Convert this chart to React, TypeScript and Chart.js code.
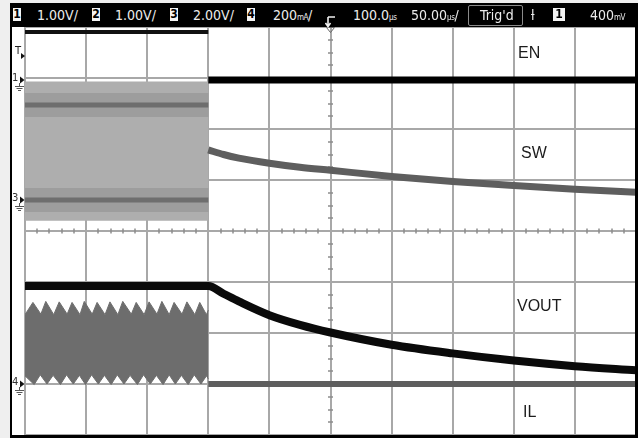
import React, { useEffect, useRef } from "react";
import { Chart, registerables } from "chart.js";

Chart.register(...registerables);

const W = 638;
const H = 438;

// Graticule: 10 horizontal divisions (time), 8 vertical divisions (0 = bottom line)
const xDivs = 10;
const yDivs = 8;

// EN (channel 1)
const enBeforeX = [0, 3.0];
const enBeforeY = [7.9, 7.9];
const enAfterX = [3.0, 10];
const enAfterY = [6.96, 6.96];

// SW (channel 3) – switching envelope while EN is high
const swBandX = [0, 3.0];
const swBandTopY = [6.93, 6.93];
const swBandBottomY = [4.2, 4.2];
const swHighRailY = [6.47, 6.47];
const swLowRailY = [4.61, 4.61];
// SW after EN falls
const swAfterX = [3.0, 3.25, 3.5, 4.0, 4.5, 5.0, 6.0, 7.0, 8.0, 9.0, 10.0];
const swAfterY = [5.59, 5.5, 5.43, 5.33, 5.25, 5.19, 5.07, 4.97, 4.89, 4.82, 4.76];

// VOUT (channel 2)
const voutX = [0, 3.0, 3.25, 3.5, 4.0, 4.5, 5.0, 6.0, 7.0, 8.0, 9.0, 10.0];
const voutY = [2.92, 2.92, 2.77, 2.62, 2.35, 2.16, 2.01, 1.77, 1.6, 1.46, 1.35, 1.27];

// IL (channel 4) – ripple envelope while switching
const ilTopX = [0.0, 0.13, 0.26, 0.34, 0.47, 0.56, 0.69, 0.77, 0.9, 0.97, 1.1, 1.18, 1.31, 1.39, 1.52, 1.6, 1.74, 1.82, 1.95, 2.03, 2.16, 2.24, 2.36, 2.44, 2.57, 2.65, 2.78, 2.86, 2.97, 3.0];
const ilTopY = [2.36, 2.6, 2.37, 2.62, 2.36, 2.61, 2.37, 2.6, 2.36, 2.62, 2.37, 2.6, 2.36, 2.61, 2.36, 2.62, 2.37, 2.6, 2.36, 2.61, 2.37, 2.62, 2.36, 2.6, 2.37, 2.61, 2.36, 2.6, 2.36, 2.45];
const ilBotX = [0.0, 0.15, 0.25, 0.36, 0.46, 0.58, 0.68, 0.79, 0.89, 0.99, 1.09, 1.2, 1.3, 1.41, 1.51, 1.62, 1.72, 1.84, 1.94, 2.05, 2.15, 2.26, 2.36, 2.46, 2.56, 2.67, 2.77, 2.88, 2.97, 3.0];
const ilBotY = [1.16, 0.99, 1.18, 1.0, 1.17, 0.99, 1.18, 1.0, 1.17, 0.99, 1.18, 1.0, 1.17, 0.99, 1.18, 1.0, 1.17, 0.99, 1.18, 1.0, 1.17, 0.99, 1.18, 1.0, 1.17, 0.99, 1.18, 1.0, 1.16, 1.1];
const ilAfterX = [3.0, 10];
const ilAfterY = [1.0, 1.0];

// Trace labels and their positions
const traceLabels = ["EN", "SW", "VOUT", "IL"];
const traceLabelPos = [
  [518, 44],
  [521, 144],
  [517, 297],
  [523, 403],
];

// Header readouts
const chanScales = ["1.00V/", "1.00V/", "2.00V/", "200"];
const chanNums = ["1", "2", "3", "4"];

// Left channel markers: label, level in divisions
const markerLabels = ["1", "3", "4"];
const markerLevels = [6.96, 4.61, 1.0];

const pts = (xs: number[], ys: number[]) => xs.map((x, i) => ({ x, y: ys[i] }));

const scopePlugin = {
  id: "scopeDeco",
  beforeDraw(chart: any) {
    const ctx = chart.ctx;
    ctx.save();
    ctx.fillStyle = "#efefef";
    ctx.fillRect(0, 0, W, H);
    ctx.fillStyle = "#ffffff";
    ctx.fillRect(12, 3, 624, 435);
    ctx.restore();
  },
  beforeDatasetsDraw(chart: any) {
    const { ctx, scales } = chart;
    const x = scales.x;
    const y = scales.y;
    const cx = x.getPixelForValue(5);
    const cy = y.getPixelForValue(4);
    ctx.save();
    ctx.strokeStyle = "#8c8c8c";
    ctx.lineWidth = 1.5;
    for (let i = 1; i < 50; i++) {
      if (i % 5 === 0) continue;
      const px = Math.round(x.getPixelForValue(i * 0.2));
      ctx.beginPath();
      ctx.moveTo(px, cy - 2.5);
      ctx.lineTo(px, cy + 2.5);
      ctx.stroke();
    }
    for (let i = 1; i < 32; i++) {
      if (i % 4 === 0) continue;
      const py = Math.round(y.getPixelForValue(i * 0.25));
      ctx.beginPath();
      ctx.moveTo(cx - 2.5, py);
      ctx.lineTo(cx + 2.5, py);
      ctx.stroke();
    }
    ctx.restore();
  },
  afterDraw(chart: any) {
    const { ctx, scales } = chart;
    const y = scales.y;
    const x = scales.x;
    ctx.save();
    // frame
    ctx.fillStyle = "#000";
    ctx.fillRect(10, 3, 2, 435);
    ctx.fillRect(635, 3, 3, 435);
    ctx.fillRect(10, 435, 628, 3);
    // trigger position marker
    const tx = x.getPixelForValue(5);
    ctx.strokeStyle = "#666";
    ctx.lineWidth = 1;
    ctx.beginPath();
    ctx.moveTo(tx - 4, 27.5);
    ctx.lineTo(tx + 4, 27.5);
    ctx.lineTo(tx, 32.5);
    ctx.closePath();
    ctx.stroke();
    // trigger level arrow
    ctx.fillStyle = "#111";
    ctx.beginPath();
    ctx.moveTo(21, 53);
    ctx.lineTo(25, 56);
    ctx.lineTo(21, 59);
    ctx.closePath();
    ctx.fill();
    // channel ground markers
    markerLevels.forEach((lv) => {
      const py = Math.round(y.getPixelForValue(lv));
      ctx.fillStyle = "#111";
      ctx.beginPath();
      ctx.moveTo(20, py - 3.5);
      ctx.lineTo(24.5, py);
      ctx.lineTo(20, py + 3.5);
      ctx.closePath();
      ctx.fill();
      ctx.strokeStyle = "#555";
      ctx.lineWidth = 1;
      ctx.beginPath();
      ctx.moveTo(19.5, py + 3);
      ctx.lineTo(19.5, py + 6);
      ctx.moveTo(15, py + 6.5);
      ctx.lineTo(24, py + 6.5);
      ctx.moveTo(16.5, py + 8.5);
      ctx.lineTo(22.5, py + 8.5);
      ctx.moveTo(18, py + 10.5);
      ctx.lineTo(21, py + 10.5);
      ctx.stroke();
    });
    ctx.restore();
  },
};

export default function App() {
  const ref = useRef<HTMLCanvasElement>(null);

  useEffect(() => {
    const canvas = ref.current;
    if (!canvas) return;
    const chart = new Chart(canvas, {
      type: "line",
      data: {
        datasets: [
          // 0: SW band top (fills to 1)
          {
            data: pts(swBandX, swBandTopY),
            borderWidth: 0,
            borderColor: "rgba(0,0,0,0)",
            backgroundColor: "#aeaeae",
            fill: 1,
            order: 10,
          },
          // 1: SW band bottom
          {
            data: pts(swBandX, swBandBottomY),
            borderWidth: 0,
            borderColor: "rgba(0,0,0,0)",
            fill: false,
            order: 10,
          },
          // 2,3: SW soft rails
          { data: pts(swBandX, swHighRailY), borderColor: "rgba(100,100,100,0.22)", borderWidth: 24, fill: false, order: 9 },
          { data: pts(swBandX, swLowRailY), borderColor: "rgba(100,100,100,0.22)", borderWidth: 24, fill: false, order: 9 },
          // 4: IL band top (fills to 5)
          {
            data: pts(ilTopX, ilTopY),
            borderColor: "#6d6d6d",
            borderWidth: 1,
            backgroundColor: "#6d6d6d",
            fill: 5,
            order: 8,
          },
          // 5: IL band bottom
          { data: pts(ilBotX, ilBotY), borderColor: "#6d6d6d", borderWidth: 1, fill: false, order: 8 },
          // 6,7: SW rails core
          { data: pts(swBandX, swHighRailY), borderColor: "rgba(95,95,95,0.75)", borderWidth: 5, fill: false, order: 7 },
          { data: pts(swBandX, swLowRailY), borderColor: "rgba(95,95,95,0.75)", borderWidth: 5, fill: false, order: 7 },
          // traces
          { data: pts(enBeforeX, enBeforeY), borderColor: "#111", borderWidth: 4, fill: false, order: 1 },
          { data: pts(enAfterX, enAfterY), borderColor: "#000", borderWidth: 7, fill: false, order: 1 },
          {
            data: pts(swAfterX, swAfterY),
            borderColor: "#5e5e5e",
            borderWidth: 7,
            fill: false,
            cubicInterpolationMode: "monotone",
            order: 1,
          },
          {
            data: pts(voutX, voutY),
            borderColor: "#0a0a0a",
            borderWidth: 8,
            fill: false,
            cubicInterpolationMode: "monotone",
            order: 1,
          },
          { data: pts(ilAfterX, ilAfterY), borderColor: "#5e5e5e", borderWidth: 6, fill: false, order: 1 },
        ] as any,
      },
      options: {
        responsive: false,
        animation: false,
        devicePixelRatio: 1,
        layout: { padding: { left: 25, top: 27, right: 2, bottom: 3 } },
        plugins: {
          legend: { display: false },
          tooltip: { enabled: false },
        },
        elements: {
          point: { radius: 0, hoverRadius: 0 },
          line: { tension: 0, borderCapStyle: "butt", borderJoinStyle: "round" },
        },
        scales: {
          x: {
            type: "linear",
            min: 0,
            max: xDivs,
            ticks: { display: false, stepSize: 1 },
            grid: { color: "#a8a8a8", lineWidth: 2, drawTicks: false },
            border: { display: false },
          },
          y: {
            type: "linear",
            min: 0,
            max: yDivs,
            ticks: { display: false, stepSize: 1 },
            grid: { color: "#a8a8a8", lineWidth: 2, drawTicks: false },
            border: { display: false },
          },
        },
      } as any,
      plugins: [scopePlugin],
    });
    return () => chart.destroy();
  }, []);

  const hdrFont = "'DejaVu Sans Condensed', 'DejaVu Sans', sans-serif";
  const hdrText: React.CSSProperties = {
    position: "absolute",
    top: 4,
    fontFamily: hdrFont,
    fontSize: 14,
    color: "#ececec",
    whiteSpace: "nowrap",
  };
  const box = (left: number, label: string, w = 8): React.ReactNode => (
    <div
      key={"b" + left}
      style={{
        position: "absolute",
        left,
        top: 5,
        width: w,
        height: 13,
        background: "#f4f4f4",
        color: "#000",
        fontFamily: hdrFont,
        fontSize: 12,
        lineHeight: "13px",
        textAlign: "center",
        fontWeight: "bold",
      }}
    >
      {label}
    </div>
  );
  const small: React.CSSProperties = { fontSize: 8, letterSpacing: -0.5 };

  const boxLefts = [3, 82, 160, 237];
  const textLefts = [27, 105, 183, 263];

  return (
    <div style={{ position: "absolute", left: 0, top: 0, width: W, height: H, overflow: "hidden" }}>
      <canvas ref={ref} width={W} height={H} style={{ display: "block" }} />
      {/* header */}
      <div style={{ position: "absolute", left: 10, top: 3, width: 628, height: 24, background: "#000" }}>
        {chanNums.map((n, i) => box(boxLefts[i], n))}
        {chanScales.map((s, i) => (
          <div key={"s" + i} style={{ ...hdrText, left: textLefts[i] }}>
            {s}
            {i === 3 ? (
              <>
                <span style={small}>mA</span>/
              </>
            ) : null}
          </div>
        ))}
        <svg style={{ position: "absolute", left: 315, top: 12 }} width="12" height="13">
          <path d="M3 2 H10 M3 2 V11 M0.5 8 L3 11.5 L5.5 8" stroke="#f0f0f0" strokeWidth="1.6" fill="none" />
        </svg>
        <div style={{ ...hdrText, left: 343 }}>
          100.0<span style={small}>µs</span>
        </div>
        <div style={{ ...hdrText, left: 401 }}>
          50.00<span style={small}>µs</span>/
        </div>
        <div
          style={{
            position: "absolute",
            left: 458,
            top: 2,
            width: 53,
            height: 19,
            border: "1px solid #8a8a8a",
            borderRadius: 2,
            background: "#000",
          }}
        />
        <div style={{ ...hdrText, left: 470 }}>Trig'd</div>
        <div style={{ ...hdrText, left: 521 }}>ƚ</div>
        {box(543, "1", 12)}
        <div style={{ ...hdrText, left: 580 }}>
          400<span style={small}>mV</span>
        </div>
      </div>
      {/* trace labels */}
      {traceLabels.map((t, i) => (
        <div
          key={t}
          style={{
            position: "absolute",
            left: traceLabelPos[i][0],
            top: traceLabelPos[i][1],
            fontFamily: "'Liberation Sans', Arial, sans-serif",
            fontSize: 16,
            color: "#1c1c1c",
            whiteSpace: "nowrap",
          }}
        >
          {t}
        </div>
      ))}
      {/* left markers */}
      <div style={{ position: "absolute", left: 15, top: 45, fontFamily: "'DejaVu Sans', sans-serif", fontSize: 10, color: "#222" }}>
        T
      </div>
      {markerLabels.map((m, i) => {
        const py = 27 + (8 - markerLevels[i]) * 51;
        return (
          <div
            key={"m" + m}
            style={{
              position: "absolute",
              left: 12,
              top: Math.round(py) - 8,
              fontFamily: "'DejaVu Sans', sans-serif",
              fontSize: 10,
              color: "#333",
            }}
          >
            {m}
          </div>
        );
      })}
    </div>
  );
}
